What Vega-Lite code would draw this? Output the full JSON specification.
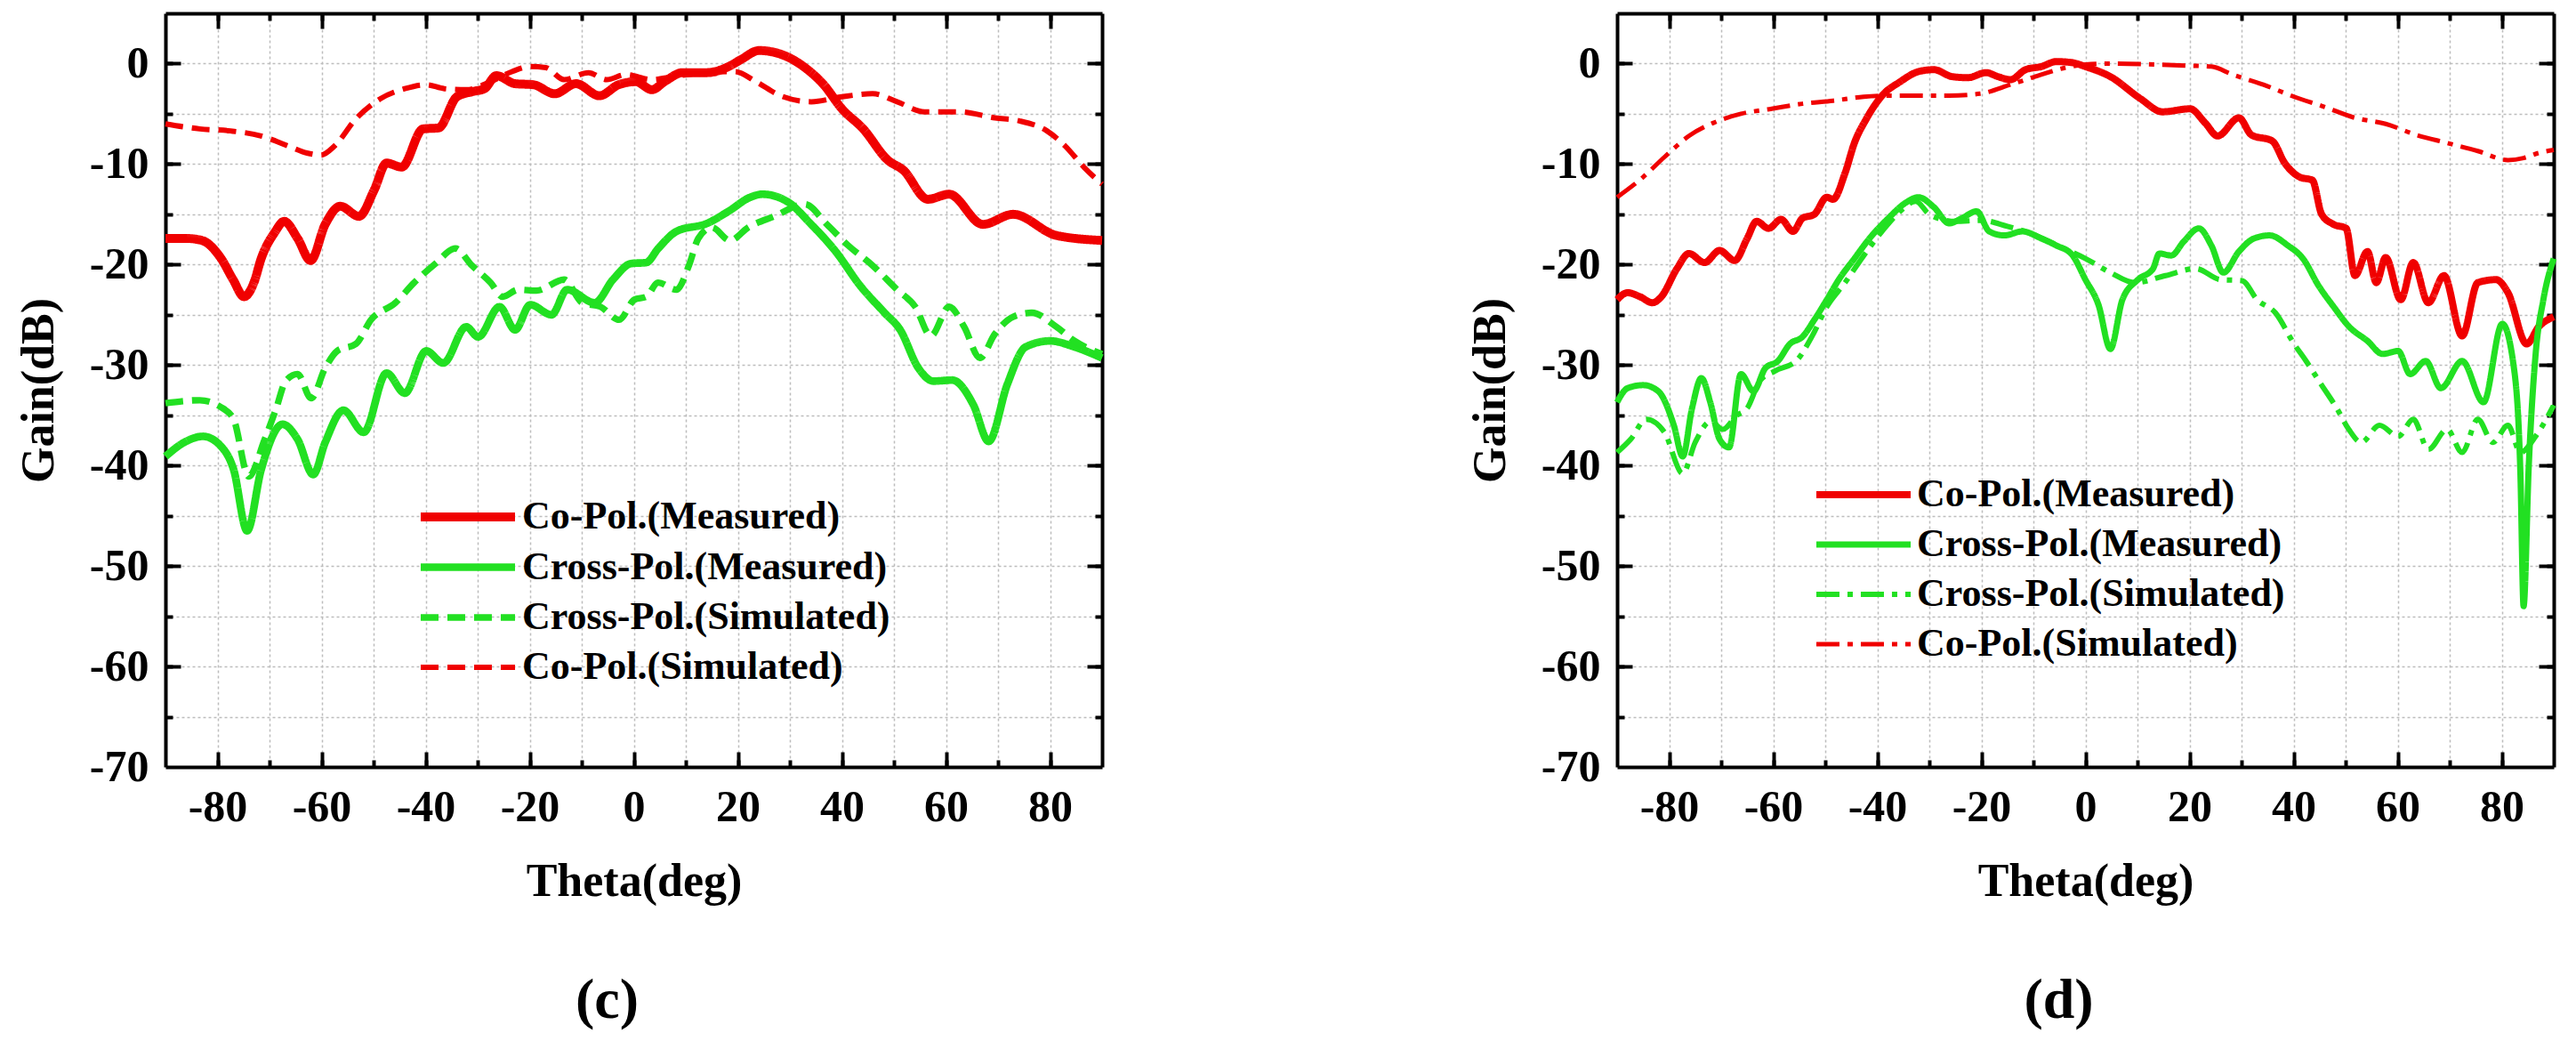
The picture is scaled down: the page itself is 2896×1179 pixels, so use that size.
{
  "$schema": "https://vega.github.io/schema/vega-lite/v6.json",
  "background": "white",
  "padding": {"left": 17, "top": 13, "right": 5, "bottom": 5},
  "datasets": {
    "c": [
      {"s":"Co-Pol.(Measured)","t":-90,"g":-17.4},{"s":"Co-Pol.(Measured)","t":-86,"g":-17.4},{"s":"Co-Pol.(Measured)","t":-83,"g":-17.6},{"s":"Co-Pol.(Measured)","t":-79.3,"g":-19.4},{"s":"Co-Pol.(Measured)","t":-77,"g":-21.5},{"s":"Co-Pol.(Measured)","t":-74.9,"g":-23.2},{"s":"Co-Pol.(Measured)","t":-73,"g":-21.8},{"s":"Co-Pol.(Measured)","t":-71.6,"g":-19.4},{"s":"Co-Pol.(Measured)","t":-69,"g":-16.8},{"s":"Co-Pol.(Measured)","t":-67.2,"g":-15.7},{"s":"Co-Pol.(Measured)","t":-64.6,"g":-17.4},{"s":"Co-Pol.(Measured)","t":-62.1,"g":-19.6},{"s":"Co-Pol.(Measured)","t":-59.3,"g":-16.0},{"s":"Co-Pol.(Measured)","t":-56.4,"g":-14.2},{"s":"Co-Pol.(Measured)","t":-52.8,"g":-15.2},{"s":"Co-Pol.(Measured)","t":-49.9,"g":-12.6},{"s":"Co-Pol.(Measured)","t":-47.5,"g":-9.9},{"s":"Co-Pol.(Measured)","t":-44.6,"g":-10.3},{"s":"Co-Pol.(Measured)","t":-40.5,"g":-6.5},{"s":"Co-Pol.(Measured)","t":-37.5,"g":-6.4},{"s":"Co-Pol.(Measured)","t":-34,"g":-3.3},{"s":"Co-Pol.(Measured)","t":-31.1,"g":-2.8},{"s":"Co-Pol.(Measured)","t":-28.7,"g":-2.5},{"s":"Co-Pol.(Measured)","t":-26.4,"g":-1.2},{"s":"Co-Pol.(Measured)","t":-22.8,"g":-2.0},{"s":"Co-Pol.(Measured)","t":-19.3,"g":-2.1},{"s":"Co-Pol.(Measured)","t":-15.2,"g":-3.0},{"s":"Co-Pol.(Measured)","t":-11.1,"g":-2.0},{"s":"Co-Pol.(Measured)","t":-6.6,"g":-3.2},{"s":"Co-Pol.(Measured)","t":-2.9,"g":-2.1},{"s":"Co-Pol.(Measured)","t":0.4,"g":-1.8},{"s":"Co-Pol.(Measured)","t":3.5,"g":-2.6},{"s":"Co-Pol.(Measured)","t":5.9,"g":-1.8},{"s":"Co-Pol.(Measured)","t":9.4,"g":-0.9},{"s":"Co-Pol.(Measured)","t":14.1,"g":-0.9},{"s":"Co-Pol.(Measured)","t":18.2,"g":-0.3},{"s":"Co-Pol.(Measured)","t":20.6,"g":0.4},{"s":"Co-Pol.(Measured)","t":24.1,"g":1.3},{"s":"Co-Pol.(Measured)","t":29.4,"g":0.7},{"s":"Co-Pol.(Measured)","t":32.9,"g":-0.4},{"s":"Co-Pol.(Measured)","t":36.5,"g":-2.1},{"s":"Co-Pol.(Measured)","t":40,"g":-4.5},{"s":"Co-Pol.(Measured)","t":44.1,"g":-6.5},{"s":"Co-Pol.(Measured)","t":48.8,"g":-9.6},{"s":"Co-Pol.(Measured)","t":51.8,"g":-10.6},{"s":"Co-Pol.(Measured)","t":56.5,"g":-13.5},{"s":"Co-Pol.(Measured)","t":60.6,"g":-13.0},{"s":"Co-Pol.(Measured)","t":67.1,"g":-16.0},{"s":"Co-Pol.(Measured)","t":72.9,"g":-15.0},{"s":"Co-Pol.(Measured)","t":81.2,"g":-17.1},{"s":"Co-Pol.(Measured)","t":90,"g":-17.6},
      {"s":"Cross-Pol.(Measured)","t":-90,"g":-39.1},{"s":"Cross-Pol.(Measured)","t":-86.4,"g":-37.7},{"s":"Cross-Pol.(Measured)","t":-82.8,"g":-37.1},{"s":"Cross-Pol.(Measured)","t":-79.3,"g":-38.1},{"s":"Cross-Pol.(Measured)","t":-76.9,"g":-40.4},{"s":"Cross-Pol.(Measured)","t":-74.3,"g":-46.5},{"s":"Cross-Pol.(Measured)","t":-71.6,"g":-40.4},{"s":"Cross-Pol.(Measured)","t":-67.5,"g":-35.9},{"s":"Cross-Pol.(Measured)","t":-64.6,"g":-37.4},{"s":"Cross-Pol.(Measured)","t":-61.6,"g":-40.9},{"s":"Cross-Pol.(Measured)","t":-59.3,"g":-37.7},{"s":"Cross-Pol.(Measured)","t":-55.8,"g":-34.5},{"s":"Cross-Pol.(Measured)","t":-51.9,"g":-36.7},{"s":"Cross-Pol.(Measured)","t":-47.5,"g":-30.8},{"s":"Cross-Pol.(Measured)","t":-44,"g":-32.8},{"s":"Cross-Pol.(Measured)","t":-39.9,"g":-28.6},{"s":"Cross-Pol.(Measured)","t":-36.6,"g":-29.8},{"s":"Cross-Pol.(Measured)","t":-32.2,"g":-26.2},{"s":"Cross-Pol.(Measured)","t":-29.9,"g":-27.2},{"s":"Cross-Pol.(Measured)","t":-25.8,"g":-24.2},{"s":"Cross-Pol.(Measured)","t":-22.8,"g":-26.5},{"s":"Cross-Pol.(Measured)","t":-19.9,"g":-24.0},{"s":"Cross-Pol.(Measured)","t":-15.8,"g":-25.0},{"s":"Cross-Pol.(Measured)","t":-12.8,"g":-22.5},{"s":"Cross-Pol.(Measured)","t":-7.5,"g":-23.8},{"s":"Cross-Pol.(Measured)","t":-4,"g":-21.5},{"s":"Cross-Pol.(Measured)","t":-0.5,"g":-19.9},{"s":"Cross-Pol.(Measured)","t":2.4,"g":-19.8},{"s":"Cross-Pol.(Measured)","t":4.7,"g":-18.4},{"s":"Cross-Pol.(Measured)","t":8.2,"g":-16.7},{"s":"Cross-Pol.(Measured)","t":14.1,"g":-15.9},{"s":"Cross-Pol.(Measured)","t":18.2,"g":-14.7},{"s":"Cross-Pol.(Measured)","t":22.4,"g":-13.3},{"s":"Cross-Pol.(Measured)","t":24.7,"g":-13.0},{"s":"Cross-Pol.(Measured)","t":29.4,"g":-13.7},{"s":"Cross-Pol.(Measured)","t":34.1,"g":-16.0},{"s":"Cross-Pol.(Measured)","t":38.8,"g":-18.7},{"s":"Cross-Pol.(Measured)","t":43.5,"g":-22.1},{"s":"Cross-Pol.(Measured)","t":48.2,"g":-24.8},{"s":"Cross-Pol.(Measured)","t":51.2,"g":-26.5},{"s":"Cross-Pol.(Measured)","t":54.7,"g":-30.3},{"s":"Cross-Pol.(Measured)","t":57.6,"g":-31.6},{"s":"Cross-Pol.(Measured)","t":61.2,"g":-31.5},{"s":"Cross-Pol.(Measured)","t":65.3,"g":-34.0},{"s":"Cross-Pol.(Measured)","t":68.2,"g":-37.6},{"s":"Cross-Pol.(Measured)","t":71.8,"g":-31.9},{"s":"Cross-Pol.(Measured)","t":75.3,"g":-28.2},{"s":"Cross-Pol.(Measured)","t":80,"g":-27.6},{"s":"Cross-Pol.(Measured)","t":84.7,"g":-28.2},{"s":"Cross-Pol.(Measured)","t":90,"g":-29.3},
      {"s":"Cross-Pol.(Simulated)","t":-90,"g":-33.8},{"s":"Cross-Pol.(Simulated)","t":-83.4,"g":-33.5},{"s":"Cross-Pol.(Simulated)","t":-79.3,"g":-34.2},{"s":"Cross-Pol.(Simulated)","t":-76.9,"g":-35.4},{"s":"Cross-Pol.(Simulated)","t":-74,"g":-41.1},{"s":"Cross-Pol.(Simulated)","t":-71,"g":-37.5},{"s":"Cross-Pol.(Simulated)","t":-68.7,"g":-34.3},{"s":"Cross-Pol.(Simulated)","t":-66.9,"g":-31.6},{"s":"Cross-Pol.(Simulated)","t":-64.6,"g":-30.9},{"s":"Cross-Pol.(Simulated)","t":-62,"g":-33.3},{"s":"Cross-Pol.(Simulated)","t":-59.3,"g":-30.3},{"s":"Cross-Pol.(Simulated)","t":-57,"g":-28.6},{"s":"Cross-Pol.(Simulated)","t":-53.4,"g":-27.9},{"s":"Cross-Pol.(Simulated)","t":-50.5,"g":-25.5},{"s":"Cross-Pol.(Simulated)","t":-45.8,"g":-23.8},{"s":"Cross-Pol.(Simulated)","t":-42.2,"g":-21.8},{"s":"Cross-Pol.(Simulated)","t":-38.1,"g":-19.9},{"s":"Cross-Pol.(Simulated)","t":-34.3,"g":-18.4},{"s":"Cross-Pol.(Simulated)","t":-31.1,"g":-20.1},{"s":"Cross-Pol.(Simulated)","t":-27.5,"g":-21.8},{"s":"Cross-Pol.(Simulated)","t":-25.2,"g":-23.2},{"s":"Cross-Pol.(Simulated)","t":-22.2,"g":-22.5},{"s":"Cross-Pol.(Simulated)","t":-18.7,"g":-22.6},{"s":"Cross-Pol.(Simulated)","t":-13.4,"g":-21.5},{"s":"Cross-Pol.(Simulated)","t":-9.9,"g":-23.8},{"s":"Cross-Pol.(Simulated)","t":-6.4,"g":-24.2},{"s":"Cross-Pol.(Simulated)","t":-2.8,"g":-25.5},{"s":"Cross-Pol.(Simulated)","t":0.1,"g":-23.5},{"s":"Cross-Pol.(Simulated)","t":2.4,"g":-23.2},{"s":"Cross-Pol.(Simulated)","t":4.7,"g":-21.8},{"s":"Cross-Pol.(Simulated)","t":8.2,"g":-22.5},{"s":"Cross-Pol.(Simulated)","t":10.6,"g":-20.1},{"s":"Cross-Pol.(Simulated)","t":12.4,"g":-17.4},{"s":"Cross-Pol.(Simulated)","t":15,"g":-16.3},{"s":"Cross-Pol.(Simulated)","t":18.5,"g":-17.6},{"s":"Cross-Pol.(Simulated)","t":22,"g":-16.3},{"s":"Cross-Pol.(Simulated)","t":27,"g":-15.2},{"s":"Cross-Pol.(Simulated)","t":32.9,"g":-14.0},{"s":"Cross-Pol.(Simulated)","t":37.1,"g":-16.0},{"s":"Cross-Pol.(Simulated)","t":41.2,"g":-18.1},{"s":"Cross-Pol.(Simulated)","t":45.9,"g":-20.1},{"s":"Cross-Pol.(Simulated)","t":50.6,"g":-22.5},{"s":"Cross-Pol.(Simulated)","t":54.1,"g":-24.2},{"s":"Cross-Pol.(Simulated)","t":57.1,"g":-27.1},{"s":"Cross-Pol.(Simulated)","t":60.6,"g":-24.2},{"s":"Cross-Pol.(Simulated)","t":63.5,"g":-26.2},{"s":"Cross-Pol.(Simulated)","t":66.5,"g":-29.3},{"s":"Cross-Pol.(Simulated)","t":69.4,"g":-26.9},{"s":"Cross-Pol.(Simulated)","t":72.9,"g":-25.2},{"s":"Cross-Pol.(Simulated)","t":76.5,"g":-24.8},{"s":"Cross-Pol.(Simulated)","t":81.2,"g":-26.2},{"s":"Cross-Pol.(Simulated)","t":84.7,"g":-27.6},{"s":"Cross-Pol.(Simulated)","t":90,"g":-28.9},
      {"s":"Co-Pol.(Simulated)","t":-90,"g":-6.0},{"s":"Co-Pol.(Simulated)","t":-83.4,"g":-6.5},{"s":"Co-Pol.(Simulated)","t":-77.5,"g":-6.7},{"s":"Co-Pol.(Simulated)","t":-71.6,"g":-7.2},{"s":"Co-Pol.(Simulated)","t":-66.4,"g":-8.2},{"s":"Co-Pol.(Simulated)","t":-62.8,"g":-8.9},{"s":"Co-Pol.(Simulated)","t":-60.1,"g":-9.1},{"s":"Co-Pol.(Simulated)","t":-57.5,"g":-8.2},{"s":"Co-Pol.(Simulated)","t":-53.4,"g":-5.5},{"s":"Co-Pol.(Simulated)","t":-48.7,"g":-3.5},{"s":"Co-Pol.(Simulated)","t":-44,"g":-2.5},{"s":"Co-Pol.(Simulated)","t":-39.9,"g":-2.1},{"s":"Co-Pol.(Simulated)","t":-36.4,"g":-2.5},{"s":"Co-Pol.(Simulated)","t":-32.2,"g":-2.6},{"s":"Co-Pol.(Simulated)","t":-27.5,"g":-1.8},{"s":"Co-Pol.(Simulated)","t":-23.4,"g":-0.8},{"s":"Co-Pol.(Simulated)","t":-19.9,"g":-0.3},{"s":"Co-Pol.(Simulated)","t":-16.9,"g":-0.4},{"s":"Co-Pol.(Simulated)","t":-13.4,"g":-1.6},{"s":"Co-Pol.(Simulated)","t":-8.7,"g":-0.9},{"s":"Co-Pol.(Simulated)","t":-5.2,"g":-1.6},{"s":"Co-Pol.(Simulated)","t":-1.6,"g":-1.1},{"s":"Co-Pol.(Simulated)","t":3.5,"g":-1.6},{"s":"Co-Pol.(Simulated)","t":7.6,"g":-1.3},{"s":"Co-Pol.(Simulated)","t":13.5,"g":-0.9},{"s":"Co-Pol.(Simulated)","t":19.4,"g":-0.8},{"s":"Co-Pol.(Simulated)","t":23.5,"g":-1.8},{"s":"Co-Pol.(Simulated)","t":28.2,"g":-3.2},{"s":"Co-Pol.(Simulated)","t":34.1,"g":-3.8},{"s":"Co-Pol.(Simulated)","t":40,"g":-3.3},{"s":"Co-Pol.(Simulated)","t":45.9,"g":-3.0},{"s":"Co-Pol.(Simulated)","t":50.6,"g":-3.8},{"s":"Co-Pol.(Simulated)","t":55.9,"g":-4.8},{"s":"Co-Pol.(Simulated)","t":62.4,"g":-4.8},{"s":"Co-Pol.(Simulated)","t":69.4,"g":-5.4},{"s":"Co-Pol.(Simulated)","t":74.1,"g":-5.7},{"s":"Co-Pol.(Simulated)","t":79.4,"g":-6.7},{"s":"Co-Pol.(Simulated)","t":82.9,"g":-8.2},{"s":"Co-Pol.(Simulated)","t":86.5,"g":-10.3},{"s":"Co-Pol.(Simulated)","t":90,"g":-12.0}
    ],
    "d": [
      {"s":"Co-Pol.(Measured)","t":-90,"g":-23.5},{"s":"Co-Pol.(Measured)","t":-88,"g":-22.8},{"s":"Co-Pol.(Measured)","t":-85.6,"g":-23.2},{"s":"Co-Pol.(Measured)","t":-83.2,"g":-23.8},{"s":"Co-Pol.(Measured)","t":-81.5,"g":-23.2},{"s":"Co-Pol.(Measured)","t":-78.5,"g":-20.4},{"s":"Co-Pol.(Measured)","t":-76.2,"g":-18.9},{"s":"Co-Pol.(Measured)","t":-73.2,"g":-19.8},{"s":"Co-Pol.(Measured)","t":-70.3,"g":-18.6},{"s":"Co-Pol.(Measured)","t":-67.4,"g":-19.6},{"s":"Co-Pol.(Measured)","t":-65,"g":-17.4},{"s":"Co-Pol.(Measured)","t":-63.2,"g":-15.7},{"s":"Co-Pol.(Measured)","t":-60.9,"g":-16.4},{"s":"Co-Pol.(Measured)","t":-58.5,"g":-15.5},{"s":"Co-Pol.(Measured)","t":-56.2,"g":-16.7},{"s":"Co-Pol.(Measured)","t":-54.4,"g":-15.4},{"s":"Co-Pol.(Measured)","t":-52.1,"g":-15.0},{"s":"Co-Pol.(Measured)","t":-49.7,"g":-13.3},{"s":"Co-Pol.(Measured)","t":-48.5,"g":-13.5},{"s":"Co-Pol.(Measured)","t":-46.2,"g":-10.9},{"s":"Co-Pol.(Measured)","t":-44.4,"g":-7.9},{"s":"Co-Pol.(Measured)","t":-42.1,"g":-5.5},{"s":"Co-Pol.(Measured)","t":-39.1,"g":-3.2},{"s":"Co-Pol.(Measured)","t":-35.6,"g":-1.8},{"s":"Co-Pol.(Measured)","t":-32.1,"g":-0.8},{"s":"Co-Pol.(Measured)","t":-29.1,"g":-0.6},{"s":"Co-Pol.(Measured)","t":-25.6,"g":-1.3},{"s":"Co-Pol.(Measured)","t":-22.6,"g":-1.4},{"s":"Co-Pol.(Measured)","t":-19.1,"g":-0.9},{"s":"Co-Pol.(Measured)","t":-16.8,"g":-1.3},{"s":"Co-Pol.(Measured)","t":-14.4,"g":-1.6},{"s":"Co-Pol.(Measured)","t":-11.5,"g":-0.6},{"s":"Co-Pol.(Measured)","t":-8.5,"g":-0.3},{"s":"Co-Pol.(Measured)","t":-5.6,"g":0.2},{"s":"Co-Pol.(Measured)","t":-2.6,"g":0.1},{"s":"Co-Pol.(Measured)","t":0,"g":-0.3},{"s":"Co-Pol.(Measured)","t":4.8,"g":-1.3},{"s":"Co-Pol.(Measured)","t":10.6,"g":-3.5},{"s":"Co-Pol.(Measured)","t":14.8,"g":-4.8},{"s":"Co-Pol.(Measured)","t":20.1,"g":-4.5},{"s":"Co-Pol.(Measured)","t":23,"g":-5.9},{"s":"Co-Pol.(Measured)","t":25.4,"g":-7.2},{"s":"Co-Pol.(Measured)","t":29.5,"g":-5.4},{"s":"Co-Pol.(Measured)","t":31.9,"g":-7.1},{"s":"Co-Pol.(Measured)","t":35.9,"g":-7.7},{"s":"Co-Pol.(Measured)","t":38.3,"g":-9.9},{"s":"Co-Pol.(Measured)","t":41.2,"g":-11.3},{"s":"Co-Pol.(Measured)","t":43.6,"g":-11.6},{"s":"Co-Pol.(Measured)","t":45.4,"g":-15.0},{"s":"Co-Pol.(Measured)","t":47.7,"g":-16.0},{"s":"Co-Pol.(Measured)","t":50.1,"g":-16.4},{"s":"Co-Pol.(Measured)","t":51.8,"g":-21.1},{"s":"Co-Pol.(Measured)","t":54.2,"g":-18.7},{"s":"Co-Pol.(Measured)","t":55.9,"g":-21.8},{"s":"Co-Pol.(Measured)","t":57.7,"g":-19.3},{"s":"Co-Pol.(Measured)","t":60.6,"g":-23.5},{"s":"Co-Pol.(Measured)","t":63,"g":-19.8},{"s":"Co-Pol.(Measured)","t":65.9,"g":-23.8},{"s":"Co-Pol.(Measured)","t":68.9,"g":-21.1},{"s":"Co-Pol.(Measured)","t":72.4,"g":-27.1},{"s":"Co-Pol.(Measured)","t":75.4,"g":-21.8},{"s":"Co-Pol.(Measured)","t":78.9,"g":-21.5},{"s":"Co-Pol.(Measured)","t":81.2,"g":-22.8},{"s":"Co-Pol.(Measured)","t":84.8,"g":-27.9},{"s":"Co-Pol.(Measured)","t":87.1,"g":-26.2},{"s":"Co-Pol.(Measured)","t":90,"g":-25.2},
      {"s":"Cross-Pol.(Measured)","t":-90,"g":-33.7},{"s":"Cross-Pol.(Measured)","t":-88,"g":-32.3},{"s":"Cross-Pol.(Measured)","t":-85,"g":-32.0},{"s":"Cross-Pol.(Measured)","t":-82.1,"g":-32.6},{"s":"Cross-Pol.(Measured)","t":-79.1,"g":-36.0},{"s":"Cross-Pol.(Measured)","t":-77.4,"g":-39.1},{"s":"Cross-Pol.(Measured)","t":-75.6,"g":-34.3},{"s":"Cross-Pol.(Measured)","t":-73.8,"g":-31.3},{"s":"Cross-Pol.(Measured)","t":-72.1,"g":-33.7},{"s":"Cross-Pol.(Measured)","t":-70.3,"g":-37.4},{"s":"Cross-Pol.(Measured)","t":-68.5,"g":-38.2},{"s":"Cross-Pol.(Measured)","t":-66.2,"g":-30.9},{"s":"Cross-Pol.(Measured)","t":-63.8,"g":-32.6},{"s":"Cross-Pol.(Measured)","t":-61.5,"g":-30.3},{"s":"Cross-Pol.(Measured)","t":-59.1,"g":-29.6},{"s":"Cross-Pol.(Measured)","t":-56.8,"g":-27.9},{"s":"Cross-Pol.(Measured)","t":-54.4,"g":-27.2},{"s":"Cross-Pol.(Measured)","t":-52.1,"g":-25.5},{"s":"Cross-Pol.(Measured)","t":-49.7,"g":-23.5},{"s":"Cross-Pol.(Measured)","t":-47.4,"g":-21.5},{"s":"Cross-Pol.(Measured)","t":-44.4,"g":-19.4},{"s":"Cross-Pol.(Measured)","t":-41.5,"g":-17.4},{"s":"Cross-Pol.(Measured)","t":-37.9,"g":-15.4},{"s":"Cross-Pol.(Measured)","t":-34.4,"g":-13.8},{"s":"Cross-Pol.(Measured)","t":-32.1,"g":-13.3},{"s":"Cross-Pol.(Measured)","t":-29.1,"g":-14.3},{"s":"Cross-Pol.(Measured)","t":-26.2,"g":-15.9},{"s":"Cross-Pol.(Measured)","t":-23.8,"g":-15.4},{"s":"Cross-Pol.(Measured)","t":-20.9,"g":-14.7},{"s":"Cross-Pol.(Measured)","t":-18.5,"g":-16.7},{"s":"Cross-Pol.(Measured)","t":-15.6,"g":-17.1},{"s":"Cross-Pol.(Measured)","t":-12.1,"g":-16.7},{"s":"Cross-Pol.(Measured)","t":-8.5,"g":-17.4},{"s":"Cross-Pol.(Measured)","t":-5.6,"g":-18.1},{"s":"Cross-Pol.(Measured)","t":-2.6,"g":-19.0},{"s":"Cross-Pol.(Measured)","t":0,"g":-21.5},{"s":"Cross-Pol.(Measured)","t":2.5,"g":-24.0},{"s":"Cross-Pol.(Measured)","t":4.8,"g":-28.4},{"s":"Cross-Pol.(Measured)","t":7.1,"g":-23.5},{"s":"Cross-Pol.(Measured)","t":10.1,"g":-21.5},{"s":"Cross-Pol.(Measured)","t":13,"g":-20.4},{"s":"Cross-Pol.(Measured)","t":14.2,"g":-18.9},{"s":"Cross-Pol.(Measured)","t":16.5,"g":-19.1},{"s":"Cross-Pol.(Measured)","t":18.9,"g":-17.7},{"s":"Cross-Pol.(Measured)","t":21.8,"g":-16.4},{"s":"Cross-Pol.(Measured)","t":24.2,"g":-18.1},{"s":"Cross-Pol.(Measured)","t":26.5,"g":-20.8},{"s":"Cross-Pol.(Measured)","t":29.5,"g":-18.7},{"s":"Cross-Pol.(Measured)","t":32.4,"g":-17.4},{"s":"Cross-Pol.(Measured)","t":35.4,"g":-17.1},{"s":"Cross-Pol.(Measured)","t":38.9,"g":-18.1},{"s":"Cross-Pol.(Measured)","t":41.8,"g":-19.4},{"s":"Cross-Pol.(Measured)","t":44.8,"g":-22.1},{"s":"Cross-Pol.(Measured)","t":47.7,"g":-24.2},{"s":"Cross-Pol.(Measured)","t":50.7,"g":-26.2},{"s":"Cross-Pol.(Measured)","t":54.2,"g":-27.6},{"s":"Cross-Pol.(Measured)","t":57.1,"g":-28.9},{"s":"Cross-Pol.(Measured)","t":60.1,"g":-28.6},{"s":"Cross-Pol.(Measured)","t":62.4,"g":-30.9},{"s":"Cross-Pol.(Measured)","t":65.4,"g":-29.6},{"s":"Cross-Pol.(Measured)","t":68.3,"g":-32.3},{"s":"Cross-Pol.(Measured)","t":72.4,"g":-29.6},{"s":"Cross-Pol.(Measured)","t":76.5,"g":-33.7},{"s":"Cross-Pol.(Measured)","t":80.1,"g":-25.9},{"s":"Cross-Pol.(Measured)","t":82.4,"g":-30.5},{"s":"Cross-Pol.(Measured)","t":83.6,"g":-41},{"s":"Cross-Pol.(Measured)","t":84.2,"g":-54},{"s":"Cross-Pol.(Measured)","t":85.2,"g":-40},{"s":"Cross-Pol.(Measured)","t":86.5,"g":-29},{"s":"Cross-Pol.(Measured)","t":88,"g":-23.5},{"s":"Cross-Pol.(Measured)","t":90,"g":-19.4},
      {"s":"Cross-Pol.(Simulated)","t":-90,"g":-38.7},{"s":"Cross-Pol.(Simulated)","t":-87.4,"g":-37.4},{"s":"Cross-Pol.(Simulated)","t":-84.4,"g":-35.4},{"s":"Cross-Pol.(Simulated)","t":-80.9,"g":-36.7},{"s":"Cross-Pol.(Simulated)","t":-77.4,"g":-40.8},{"s":"Cross-Pol.(Simulated)","t":-75,"g":-37.7},{"s":"Cross-Pol.(Simulated)","t":-72,"g":-35.6},{"s":"Cross-Pol.(Simulated)","t":-69.7,"g":-36.4},{"s":"Cross-Pol.(Simulated)","t":-67,"g":-35.0},{"s":"Cross-Pol.(Simulated)","t":-65,"g":-34.3},{"s":"Cross-Pol.(Simulated)","t":-62.6,"g":-31.6},{"s":"Cross-Pol.(Simulated)","t":-59.7,"g":-30.6},{"s":"Cross-Pol.(Simulated)","t":-55.6,"g":-29.6},{"s":"Cross-Pol.(Simulated)","t":-52.6,"g":-27.2},{"s":"Cross-Pol.(Simulated)","t":-49.7,"g":-24.2},{"s":"Cross-Pol.(Simulated)","t":-46.2,"g":-21.8},{"s":"Cross-Pol.(Simulated)","t":-42.6,"g":-19.1},{"s":"Cross-Pol.(Simulated)","t":-39.1,"g":-16.7},{"s":"Cross-Pol.(Simulated)","t":-35.6,"g":-14.7},{"s":"Cross-Pol.(Simulated)","t":-32.6,"g":-13.7},{"s":"Cross-Pol.(Simulated)","t":-30,"g":-15.0},{"s":"Cross-Pol.(Simulated)","t":-25,"g":-15.7},{"s":"Cross-Pol.(Simulated)","t":-20,"g":-15.6},{"s":"Cross-Pol.(Simulated)","t":-15,"g":-16.2},{"s":"Cross-Pol.(Simulated)","t":-10,"g":-17.0},{"s":"Cross-Pol.(Simulated)","t":-5,"g":-18.2},{"s":"Cross-Pol.(Simulated)","t":0,"g":-19.4},{"s":"Cross-Pol.(Simulated)","t":4.8,"g":-20.8},{"s":"Cross-Pol.(Simulated)","t":9.5,"g":-21.8},{"s":"Cross-Pol.(Simulated)","t":15.4,"g":-21.1},{"s":"Cross-Pol.(Simulated)","t":21.2,"g":-20.4},{"s":"Cross-Pol.(Simulated)","t":25.9,"g":-21.5},{"s":"Cross-Pol.(Simulated)","t":30.1,"g":-21.6},{"s":"Cross-Pol.(Simulated)","t":33,"g":-23.5},{"s":"Cross-Pol.(Simulated)","t":36.5,"g":-24.8},{"s":"Cross-Pol.(Simulated)","t":40.1,"g":-27.9},{"s":"Cross-Pol.(Simulated)","t":42.4,"g":-29.6},{"s":"Cross-Pol.(Simulated)","t":45.4,"g":-32.0},{"s":"Cross-Pol.(Simulated)","t":48.3,"g":-34.3},{"s":"Cross-Pol.(Simulated)","t":50.6,"g":-36.4},{"s":"Cross-Pol.(Simulated)","t":53,"g":-37.7},{"s":"Cross-Pol.(Simulated)","t":56.5,"g":-36.0},{"s":"Cross-Pol.(Simulated)","t":60.1,"g":-37.1},{"s":"Cross-Pol.(Simulated)","t":63,"g":-35.4},{"s":"Cross-Pol.(Simulated)","t":65.9,"g":-38.4},{"s":"Cross-Pol.(Simulated)","t":69.5,"g":-36.4},{"s":"Cross-Pol.(Simulated)","t":72.4,"g":-38.7},{"s":"Cross-Pol.(Simulated)","t":75.4,"g":-35.4},{"s":"Cross-Pol.(Simulated)","t":78.3,"g":-37.7},{"s":"Cross-Pol.(Simulated)","t":81.2,"g":-36.0},{"s":"Cross-Pol.(Simulated)","t":83.6,"g":-38.7},{"s":"Cross-Pol.(Simulated)","t":86.5,"g":-37.1},{"s":"Cross-Pol.(Simulated)","t":90,"g":-34.0},
      {"s":"Co-Pol.(Simulated)","t":-90,"g":-13.3},{"s":"Co-Pol.(Simulated)","t":-85,"g":-11.3},{"s":"Co-Pol.(Simulated)","t":-80.9,"g":-9.3},{"s":"Co-Pol.(Simulated)","t":-76.2,"g":-7.2},{"s":"Co-Pol.(Simulated)","t":-71.5,"g":-5.9},{"s":"Co-Pol.(Simulated)","t":-66.2,"g":-5.0},{"s":"Co-Pol.(Simulated)","t":-60.3,"g":-4.5},{"s":"Co-Pol.(Simulated)","t":-54.4,"g":-4.0},{"s":"Co-Pol.(Simulated)","t":-48.5,"g":-3.7},{"s":"Co-Pol.(Simulated)","t":-42.6,"g":-3.3},{"s":"Co-Pol.(Simulated)","t":-37.9,"g":-3.2},{"s":"Co-Pol.(Simulated)","t":-32.1,"g":-3.2},{"s":"Co-Pol.(Simulated)","t":-26.2,"g":-3.2},{"s":"Co-Pol.(Simulated)","t":-20.3,"g":-3.0},{"s":"Co-Pol.(Simulated)","t":-14.4,"g":-2.1},{"s":"Co-Pol.(Simulated)","t":-8.5,"g":-1.1},{"s":"Co-Pol.(Simulated)","t":-3.8,"g":-0.4},{"s":"Co-Pol.(Simulated)","t":0,"g":-0.1},{"s":"Co-Pol.(Simulated)","t":4.8,"g":0},{"s":"Co-Pol.(Simulated)","t":13.6,"g":-0.1},{"s":"Co-Pol.(Simulated)","t":19.5,"g":-0.2},{"s":"Co-Pol.(Simulated)","t":24.2,"g":-0.3},{"s":"Co-Pol.(Simulated)","t":28.3,"g":-1.1},{"s":"Co-Pol.(Simulated)","t":34.2,"g":-2.1},{"s":"Co-Pol.(Simulated)","t":40.1,"g":-3.3},{"s":"Co-Pol.(Simulated)","t":45.9,"g":-4.3},{"s":"Co-Pol.(Simulated)","t":51.8,"g":-5.4},{"s":"Co-Pol.(Simulated)","t":57.7,"g":-6.0},{"s":"Co-Pol.(Simulated)","t":63.6,"g":-7.1},{"s":"Co-Pol.(Simulated)","t":69.5,"g":-7.9},{"s":"Co-Pol.(Simulated)","t":75.4,"g":-8.7},{"s":"Co-Pol.(Simulated)","t":81.2,"g":-9.6},{"s":"Co-Pol.(Simulated)","t":84.2,"g":-9.4},{"s":"Co-Pol.(Simulated)","t":87.1,"g":-8.9},{"s":"Co-Pol.(Simulated)","t":90,"g":-8.6}
    ]
  },
  "hconcat": [
    {
      "width": 1053, "height": 847,
      "data": {"name": "c"},
      "title": {"text": "(c)", "orient": "bottom", "fontSize": 64, "font": "Liberation Serif", "fontWeight": "bold", "offset": 77, "dx": -30, "color": "black"},
      "layer": [
        {
          "mark": {"type": "point", "opacity": 0},
          "encoding": {
            "x": {"field": "t", "type": "quantitative", "scale": {"domain": [-90, 90], "nice": false, "zero": false},
                  "axis": {"orient": "bottom", "values": [-80,-70,-60,-50,-40,-30,-20,-10,0,10,20,30,40,50,60,70,80], "grid": true, "labels": false, "domain": false, "tickSize": -8, "title": null}},
            "y": {"field": "g", "type": "quantitative", "scale": {"domain": [-70, 5], "nice": false, "zero": false},
                  "axis": {"orient": "left", "values": [-65,-60,-55,-50,-45,-40,-35,-30,-25,-20,-15,-10,-5,0], "grid": true, "labels": false, "domain": false, "tickSize": -8, "title": null}}
          }
        },
        {
          "mark": {"type": "point", "opacity": 0},
          "encoding": {
            "x": {"field": "t", "type": "quantitative", "scale": {"domain": [-90, 90], "nice": false, "zero": false},
                  "axis": {"orient": "top", "values": [-80,-70,-60,-50,-40,-30,-20,-10,0,10,20,30,40,50,60,70,80], "grid": false, "labels": false, "domain": true, "tickSize": -8, "title": null}},
            "y": {"field": "g", "type": "quantitative", "scale": {"domain": [-70, 5], "nice": false, "zero": false},
                  "axis": {"orient": "right", "values": [-65,-60,-55,-50,-45,-40,-35,-30,-25,-20,-15,-10,-5,0], "grid": false, "labels": false, "domain": true, "tickSize": -8, "title": null}}
          }
        },
        {
          "mark": {"type": "point", "opacity": 0},
          "encoding": {
            "x": {"field": "t", "type": "quantitative", "scale": {"domain": [-90, 90], "nice": false, "zero": false},
                  "axis": {"orient": "top", "values": [-80,-60,-40,-20,0,20,40,60,80], "grid": false, "labels": false, "domain": false, "tickSize": -17, "title": null}},
            "y": {"field": "g", "type": "quantitative", "scale": {"domain": [-70, 5], "nice": false, "zero": false},
                  "axis": {"orient": "right", "values": [-60,-50,-40,-30,-20,-10,0], "grid": false, "labels": false, "domain": false, "tickSize": -17, "title": null}}
          }
        },
        {
          "mark": {"type": "point", "opacity": 0},
          "encoding": {
            "x": {"field": "t", "type": "quantitative", "scale": {"domain": [-90, 90], "nice": false, "zero": false},
                  "axis": {"orient": "bottom", "values": [-80,-60,-40,-20,0,20,40,60,80], "grid": false, "labels": false, "domain": true, "tickSize": -17, "title": null}},
            "y": {"field": "g", "type": "quantitative", "scale": {"domain": [-70, 5], "nice": false, "zero": false},
                  "axis": {"orient": "left", "values": [-60,-50,-40,-30,-20,-10,0], "grid": false, "labels": false, "domain": true, "tickSize": -17, "title": null}}
          }
        },
        {
          "mark": {"type": "line", "interpolate": "monotone", "strokeCap": "butt", "strokeJoin": "round"},
          "encoding": {
            "x": {"field": "t", "type": "quantitative", "scale": {"domain": [-90, 90], "nice": false, "zero": false},
                  "axis": {"orient": "bottom", "values": [-80,-60,-40,-20,0,20,40,60,80], "labelExpr": "'' + datum.value", "grid": false, "ticks": false, "domain": false, "labelPadding": 20, "title": "Theta(deg)", "titlePadding": 33}},
            "y": {"field": "g", "type": "quantitative", "scale": {"domain": [-70, 5], "nice": false, "zero": false},
                  "axis": {"orient": "left", "values": [-70,-60,-50,-40,-30,-20,-10,0], "labelExpr": "'' + datum.value", "grid": false, "ticks": false, "domain": false, "labelPadding": 19, "title": "Gain(dB)", "titlePadding": 30}},
            "color": {"field": "s", "type": "nominal",
                      "scale": {"domain": ["Co-Pol.(Measured)","Cross-Pol.(Measured)","Cross-Pol.(Simulated)","Co-Pol.(Simulated)"], "range": ["#f00000","#22e022","#22e022","#f00000"]},
                      "legend": {"orient": "none", "legendX": 317, "legendY": 543, "title": null, "labelFont": "Liberation Serif", "labelFontWeight": "bold", "labelFontSize": 44, "labelColor": "black", "symbolType": "M-3,0H3", "symbolSize": 1250, "rowPadding": 12, "labelOffset": 38, "labelLimit": 0}},
            "strokeDash": {"field": "s", "type": "nominal",
                      "scale": {"domain": ["Co-Pol.(Measured)","Cross-Pol.(Measured)","Cross-Pol.(Simulated)","Co-Pol.(Simulated)"], "range": [[1,0],[1,0],[20,10],[20,10]]},
                      "legend": {"orient": "none", "legendX": 317, "legendY": 543, "title": null, "labelFont": "Liberation Serif", "labelFontWeight": "bold", "labelFontSize": 44, "labelColor": "black", "symbolType": "M-3,0H3", "symbolSize": 1250, "rowPadding": 12, "labelOffset": 38, "labelLimit": 0}},
            "strokeWidth": {"field": "s", "type": "nominal",
                      "scale": {"domain": ["Co-Pol.(Measured)","Cross-Pol.(Measured)","Cross-Pol.(Simulated)","Co-Pol.(Simulated)"], "range": [10,6,7,8]},
                      "legend": {"orient": "none", "legendX": 317, "legendY": 543, "title": null, "labelFont": "Liberation Serif", "labelFontWeight": "bold", "labelFontSize": 44, "labelColor": "black", "symbolType": "M-3,0H3", "symbolSize": 1250, "rowPadding": 12, "labelOffset": 38, "labelLimit": 0}}
          }
        }
      ],
      "resolve": {"axis": {"x": "independent", "y": "independent"}}
    },
    {
      "width": 1053, "height": 847,
      "data": {"name": "d"},
      "title": {"text": "(d)", "orient": "bottom", "fontSize": 64, "font": "Liberation Serif", "fontWeight": "bold", "offset": 77, "dx": -30, "color": "black"},
      "layer": [
        {
          "mark": {"type": "point", "opacity": 0},
          "encoding": {
            "x": {"field": "t", "type": "quantitative", "scale": {"domain": [-90, 90], "nice": false, "zero": false},
                  "axis": {"orient": "bottom", "values": [-80,-70,-60,-50,-40,-30,-20,-10,0,10,20,30,40,50,60,70,80], "grid": true, "labels": false, "domain": false, "tickSize": -8, "title": null}},
            "y": {"field": "g", "type": "quantitative", "scale": {"domain": [-70, 5], "nice": false, "zero": false},
                  "axis": {"orient": "left", "values": [-65,-60,-55,-50,-45,-40,-35,-30,-25,-20,-15,-10,-5,0], "grid": true, "labels": false, "domain": false, "tickSize": -8, "title": null}}
          }
        },
        {
          "mark": {"type": "point", "opacity": 0},
          "encoding": {
            "x": {"field": "t", "type": "quantitative", "scale": {"domain": [-90, 90], "nice": false, "zero": false},
                  "axis": {"orient": "top", "values": [-80,-70,-60,-50,-40,-30,-20,-10,0,10,20,30,40,50,60,70,80], "grid": false, "labels": false, "domain": true, "tickSize": -8, "title": null}},
            "y": {"field": "g", "type": "quantitative", "scale": {"domain": [-70, 5], "nice": false, "zero": false},
                  "axis": {"orient": "right", "values": [-65,-60,-55,-50,-45,-40,-35,-30,-25,-20,-15,-10,-5,0], "grid": false, "labels": false, "domain": true, "tickSize": -8, "title": null}}
          }
        },
        {
          "mark": {"type": "point", "opacity": 0},
          "encoding": {
            "x": {"field": "t", "type": "quantitative", "scale": {"domain": [-90, 90], "nice": false, "zero": false},
                  "axis": {"orient": "top", "values": [-80,-60,-40,-20,0,20,40,60,80], "grid": false, "labels": false, "domain": false, "tickSize": -17, "title": null}},
            "y": {"field": "g", "type": "quantitative", "scale": {"domain": [-70, 5], "nice": false, "zero": false},
                  "axis": {"orient": "right", "values": [-60,-50,-40,-30,-20,-10,0], "grid": false, "labels": false, "domain": false, "tickSize": -17, "title": null}}
          }
        },
        {
          "mark": {"type": "point", "opacity": 0},
          "encoding": {
            "x": {"field": "t", "type": "quantitative", "scale": {"domain": [-90, 90], "nice": false, "zero": false},
                  "axis": {"orient": "bottom", "values": [-80,-60,-40,-20,0,20,40,60,80], "grid": false, "labels": false, "domain": true, "tickSize": -17, "title": null}},
            "y": {"field": "g", "type": "quantitative", "scale": {"domain": [-70, 5], "nice": false, "zero": false},
                  "axis": {"orient": "left", "values": [-60,-50,-40,-30,-20,-10,0], "grid": false, "labels": false, "domain": true, "tickSize": -17, "title": null}}
          }
        },
        {
          "mark": {"type": "line", "interpolate": "monotone", "strokeCap": "butt", "strokeJoin": "round"},
          "encoding": {
            "x": {"field": "t", "type": "quantitative", "scale": {"domain": [-90, 90], "nice": false, "zero": false},
                  "axis": {"orient": "bottom", "values": [-80,-60,-40,-20,0,20,40,60,80], "labelExpr": "'' + datum.value", "grid": false, "ticks": false, "domain": false, "labelPadding": 20, "title": "Theta(deg)", "titlePadding": 33}},
            "y": {"field": "g", "type": "quantitative", "scale": {"domain": [-70, 5], "nice": false, "zero": false},
                  "axis": {"orient": "left", "values": [-70,-60,-50,-40,-30,-20,-10,0], "labelExpr": "'' + datum.value", "grid": false, "ticks": false, "domain": false, "labelPadding": 19, "title": "Gain(dB)", "titlePadding": 30}},
            "color": {"field": "s", "type": "nominal",
                      "scale": {"domain": ["Co-Pol.(Measured)","Cross-Pol.(Measured)","Cross-Pol.(Simulated)","Co-Pol.(Simulated)"], "range": ["#f00000","#22e022","#22e022","#f00000"]},
                      "legend": {"orient": "none", "legendX": 255, "legendY": 519, "title": null, "labelFont": "Liberation Serif", "labelFontWeight": "bold", "labelFontSize": 44, "labelColor": "black", "symbolType": "M-3,0H3", "symbolSize": 1250, "rowPadding": 12, "labelOffset": 38, "labelLimit": 0}},
            "strokeDash": {"field": "s", "type": "nominal",
                      "scale": {"domain": ["Co-Pol.(Measured)","Cross-Pol.(Measured)","Cross-Pol.(Simulated)","Co-Pol.(Simulated)"], "range": [[1,0],[1,0],[26,9,6,9],[26,9,6,9]]},
                      "legend": {"orient": "none", "legendX": 255, "legendY": 519, "title": null, "labelFont": "Liberation Serif", "labelFontWeight": "bold", "labelFontSize": 44, "labelColor": "black", "symbolType": "M-3,0H3", "symbolSize": 1250, "rowPadding": 12, "labelOffset": 38, "labelLimit": 0}},
            "strokeWidth": {"field": "s", "type": "nominal",
                      "scale": {"domain": ["Co-Pol.(Measured)","Cross-Pol.(Measured)","Cross-Pol.(Simulated)","Co-Pol.(Simulated)"], "range": [8,5,6,7]},
                      "legend": {"orient": "none", "legendX": 255, "legendY": 519, "title": null, "labelFont": "Liberation Serif", "labelFontWeight": "bold", "labelFontSize": 44, "labelColor": "black", "symbolType": "M-3,0H3", "symbolSize": 1250, "rowPadding": 12, "labelOffset": 38, "labelLimit": 0}}
          }
        }
      ],
      "resolve": {"axis": {"x": "independent", "y": "independent"}}
    }
  ],
  "spacing": 405,
  "resolve": {
    "scale": {"color": "independent", "strokeDash": "independent", "strokeWidth": "independent"},
    "legend": {"color": "independent", "strokeDash": "independent", "strokeWidth": "independent"}
  },
  "config": {
    "font": "Liberation Serif",
    "view": {"stroke": null},
    "axis": {
      "labelFont": "Liberation Serif", "labelFontWeight": "bold", "labelFontSize": 50, "labelColor": "black",
      "titleFont": "Liberation Serif", "titleFontWeight": "bold", "titleFontSize": 52, "titleColor": "black",
      "domainColor": "black", "domainWidth": 4, "tickColor": "black", "tickWidth": 4,
      "gridColor": "#bdbdbd", "gridDash": [3, 3], "gridWidth": 1.5
    }
  }
}
